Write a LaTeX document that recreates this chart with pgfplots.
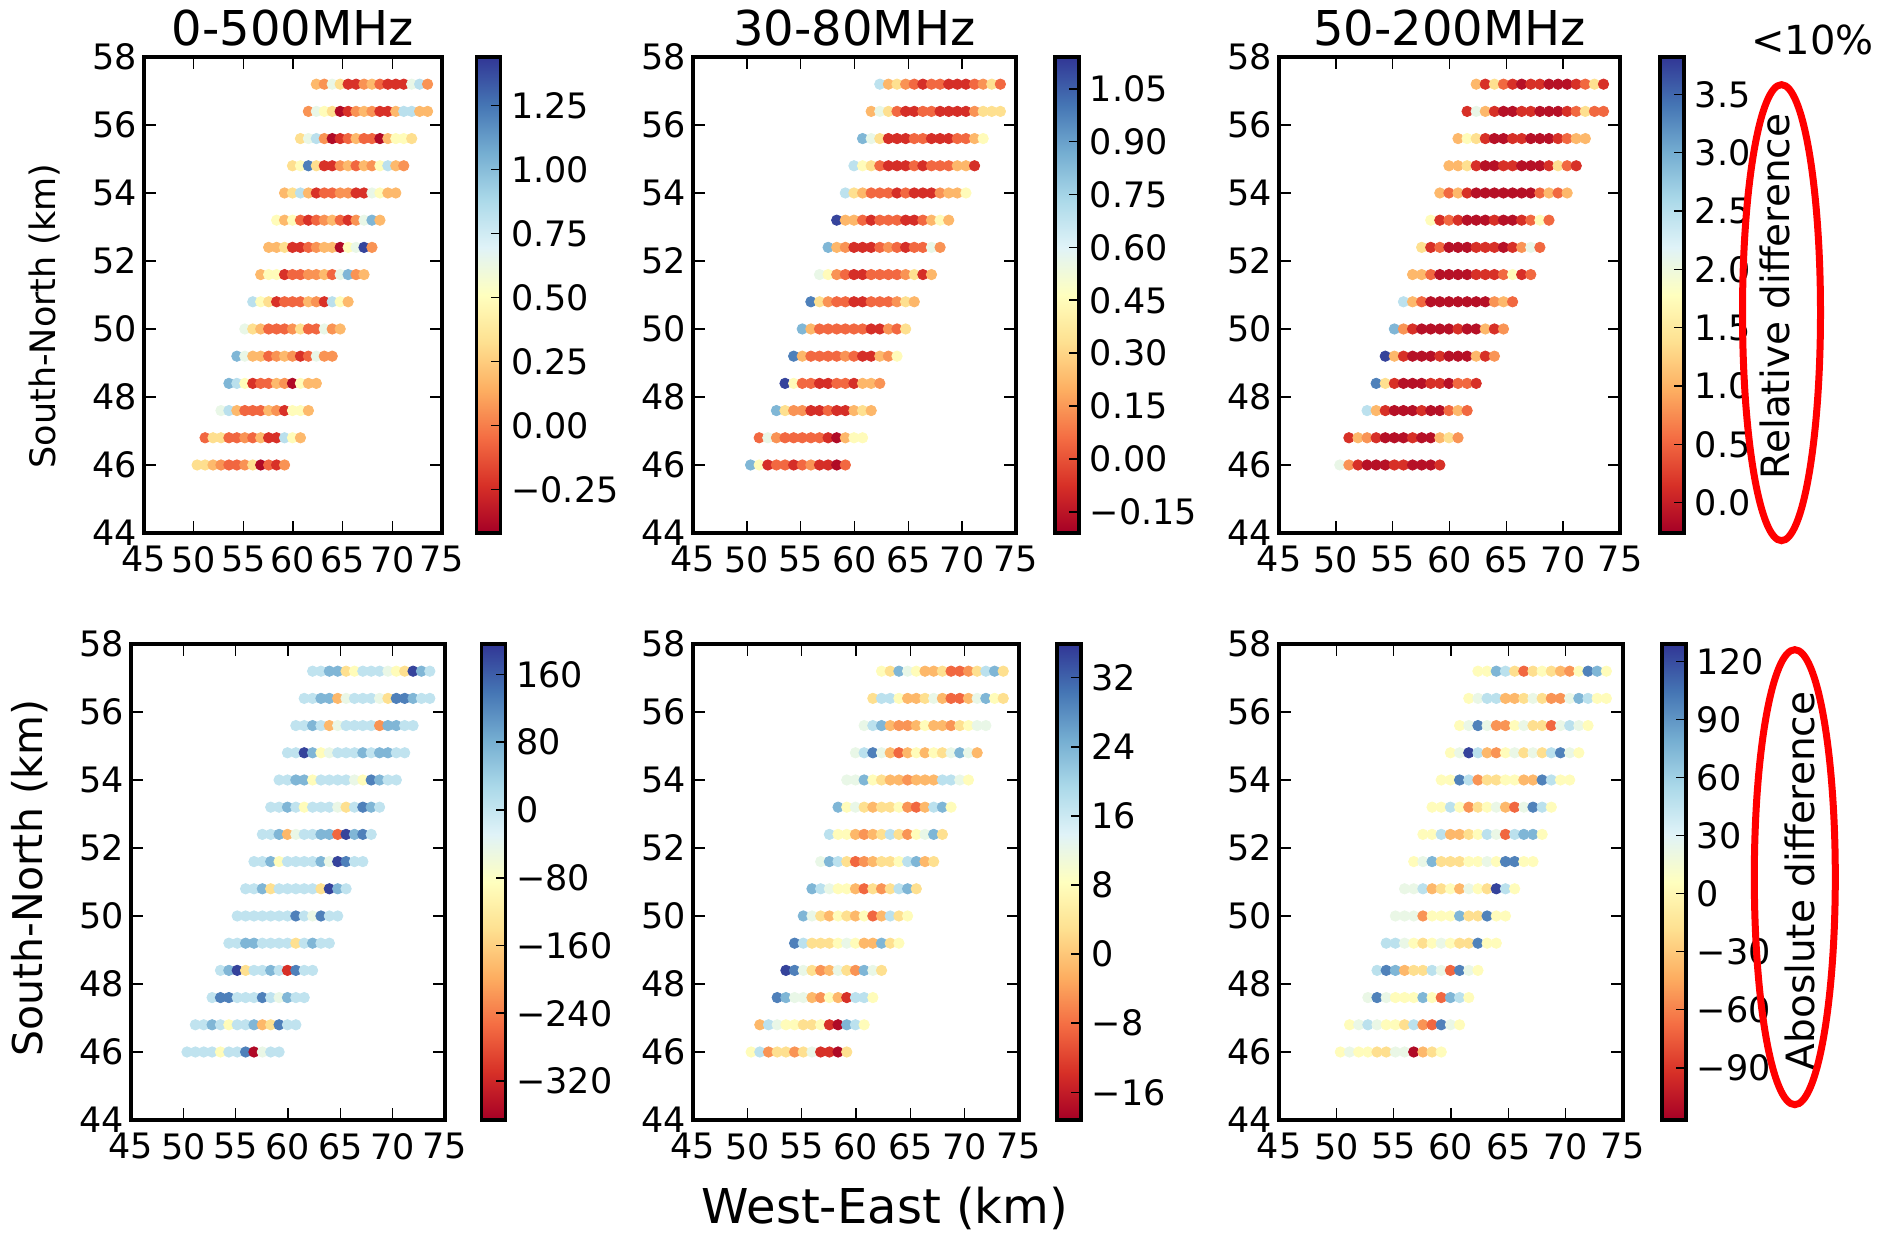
\documentclass[border=0pt]{standalone}
\usepackage{fontspec}
\setmainfont{DejaVu Sans}
\usepackage{pgfplots}
\usepackage{pgfplotstable}
\pgfplotsset{compat=1.18}

\newcommand\tickfont{\fontsize{17.5}{20}\selectfont}
\newcommand\titlefont{\fontsize{24}{28}\selectfont}
\newcommand\sidefont{\fontsize{19.5}{22}\selectfont}

% Station positions (km) and per-station differences:
% a,b,c = relative difference (0-500, 30-80, 50-200 MHz)
% d,e,f = absolute difference (0-500, 30-80, 50-200 MHz)
\pgfplotstableread{
x y a b c d e f
50.35 46.0 0.32 0.84 2.07 5 7.8 4
51.15 46.0 0.32 0.45 0.80 5 17.7 23
51.95 46.0 0.18 -0.08 0.15 5 -4.9 4
52.75 46.0 0.06 0.05 -0.12 5 2.8 4
53.55 46.0 -0.07 0.05 -0.12 -91 2.8 -19
54.35 46.0 -0.07 -0.08 -0.12 5 -4.9 -19
55.15 46.0 0.06 0.05 0.15 5 2.8 23
55.95 46.0 0.32 0.14 0.15 129 12.2 23
56.75 46.0 -0.38 -0.08 -0.12 -355 -13.7 -112
57.55 46.0 -0.07 -0.08 -0.12 -46 -13.7 -38
58.35 46.0 -0.23 -0.18 -0.12 5 -18.1 -19
59.15 46.0 0.06 0.05 0.15 5 2.8 4
51.15 46.8 -0.07 0.05 0.15 5 -1.6 4
51.95 46.8 0.32 0.56 1.05 5 17.7 23
52.75 46.8 0.32 0.14 0.80 72 12.2 48
53.55 46.8 -0.07 0.05 0.15 5 7.8 23
54.35 46.8 -0.07 0.05 -0.12 -91 7.8 4
55.15 46.8 0.06 0.05 -0.12 5 2.8 4
55.95 46.8 -0.07 0.05 -0.12 5 2.8 -19
56.75 46.8 0.18 0.05 0.15 72 7.8 48
57.55 46.8 -0.23 -0.08 -0.12 -186 -13.7 -53
58.35 46.8 -0.23 -0.18 -0.12 -141 -18.1 -70
59.15 46.8 0.83 0.22 1.05 129 23.8 99
59.95 46.8 0.49 0.45 1.37 5 17.7 23
60.75 46.8 0.18 0.45 0.80 5 7.8 4
52.75 47.6 0.64 0.84 2.47 5 29.3 23
53.55 47.6 0.83 0.33 1.05 129 23.8 99
54.35 47.6 0.18 0.14 0.15 129 12.2 23
55.15 47.6 -0.07 0.14 -0.12 5 12.2 4
55.95 47.6 -0.07 -0.08 -0.12 5 -1.6 4
56.75 47.6 -0.07 -0.08 -0.12 5 -4.9 4
57.55 47.6 0.18 0.05 0.15 129 7.8 75
58.35 47.6 0.06 -0.08 -0.12 5 -1.6 4
59.15 47.6 -0.23 -0.08 -0.12 -46 -13.7 -70
59.95 47.6 0.49 0.22 0.52 72 17.7 75
60.75 47.6 0.49 0.33 1.05 5 17.7 48
61.55 47.6 0.18 0.22 0.52 5 7.8 4
53.55 48.4 1.03 1.11 3.33 5 34.8 48
54.35 48.4 0.83 0.45 1.37 72 29.3 99
55.15 48.4 0.49 0.05 0.15 185 12.2 75
55.95 48.4 -0.23 0.05 -0.12 -141 2.8 -38
56.75 48.4 -0.07 -0.08 -0.12 5 -4.9 -19
57.55 48.4 -0.07 -0.08 -0.12 5 -1.6 -19
58.35 48.4 0.18 0.05 0.15 72 12.2 48
59.15 48.4 0.06 0.05 0.15 5 2.8 23
59.95 48.4 -0.38 -0.08 -0.12 -310 -4.9 -70
60.75 48.4 0.49 0.22 0.52 129 23.8 99
61.55 48.4 0.18 0.22 0.52 5 12.2 23
62.35 48.4 0.18 0.14 0.15 5 2.8 4
54.35 49.2 1.03 0.98 3.74 5 29.3 48
55.15 49.2 0.64 0.22 1.05 5 17.7 48
55.95 49.2 0.18 0.05 0.15 72 2.8 23
56.75 49.2 0.18 0.05 -0.12 72 2.8 4
57.55 49.2 -0.07 0.05 -0.12 5 2.8 -19
58.35 49.2 0.06 0.05 -0.12 5 7.8 4
59.15 49.2 0.18 0.14 0.15 5 12.2 23
59.95 49.2 0.06 0.05 -0.12 5 7.8 4
60.75 49.2 -0.23 -0.08 -0.12 -141 -1.6 -19
61.55 49.2 -0.07 -0.08 -0.12 5 -1.6 -19
62.35 49.2 0.64 0.22 1.05 72 23.8 99
63.15 49.2 0.06 0.14 0.15 5 2.8 4
63.95 49.2 0.06 0.45 0.80 5 7.8 4
55.15 50.0 0.64 0.84 2.92 5 23.8 23
55.95 50.0 0.32 0.22 0.80 5 12.2 23
56.75 50.0 0.18 0.05 0.15 5 2.8 23
57.55 50.0 -0.07 0.05 -0.12 5 -1.6 -53
58.35 50.0 -0.07 0.05 -0.12 5 7.8 4
59.15 50.0 -0.07 0.05 -0.12 5 2.8 4
59.95 50.0 0.06 0.05 -0.12 5 -1.6 4
60.75 50.0 0.32 0.05 0.15 129 7.8 75
61.55 50.0 -0.07 -0.08 -0.12 5 -8.7 -19
62.35 50.0 -0.07 -0.08 -0.12 -46 -1.6 -19
63.15 50.0 0.64 0.14 1.05 129 17.7 99
63.95 50.0 0.06 0.05 0.15 5 2.8 4
64.75 50.0 0.18 0.33 0.80 5 7.8 4
55.95 50.8 0.83 0.98 2.47 5 23.8 23
56.75 50.8 0.49 0.33 1.05 5 17.7 23
57.55 50.8 0.32 0.14 0.52 72 12.2 48
58.35 50.8 -0.23 0.05 -0.12 -141 7.8 -38
59.15 50.8 -0.07 0.05 -0.12 5 7.8 -19
59.95 50.8 -0.07 -0.08 -0.12 5 -1.6 4
60.75 50.8 -0.07 -0.08 -0.12 5 -8.7 -38
61.55 50.8 0.18 0.05 -0.12 5 2.8 23
62.35 50.8 0.06 0.05 -0.12 5 -4.9 4
63.15 50.8 -0.23 0.05 -0.12 -141 2.8 -19
63.95 50.8 0.83 0.14 0.80 185 17.7 124
64.75 50.8 0.49 0.33 1.05 72 23.8 48
65.55 50.8 0.18 0.22 0.52 5 2.8 4
56.75 51.6 0.18 0.56 1.05 5 12.2 4
57.55 51.6 0.49 0.45 1.05 5 23.8 23
58.35 51.6 0.49 0.14 0.52 72 17.7 75
59.15 51.6 -0.23 0.05 -0.12 -91 2.8 -19
59.95 51.6 -0.07 -0.08 -0.12 5 -8.7 -19
60.75 51.6 -0.07 -0.08 -0.12 5 -4.9 -19
61.55 51.6 0.06 0.05 -0.12 5 -1.6 4
62.35 51.6 0.06 0.05 0.15 5 2.8 4
63.15 51.6 0.18 0.05 0.15 72 2.8 23
63.95 51.6 -0.07 0.05 0.15 -46 7.8 4
64.75 51.6 0.64 0.14 0.52 185 17.7 99
65.55 51.6 1.03 0.33 1.74 129 23.8 99
66.35 51.6 0.06 -0.08 0.15 5 -1.6 4
67.15 51.6 0.18 0.22 0.52 5 2.8 4
57.55 52.4 0.18 0.84 1.37 5 17.7 4
58.35 52.4 0.18 0.22 0.15 5 7.8 4
59.15 52.4 0.32 0.14 0.52 72 7.8 48
59.95 52.4 -0.23 -0.08 -0.12 -186 -1.6 -38
60.75 52.4 -0.23 -0.08 -0.12 -46 -4.9 -38
61.55 52.4 -0.07 -0.08 -0.12 5 -1.6 -19
62.35 52.4 0.06 0.05 0.15 5 2.8 4
63.15 52.4 0.18 0.14 0.15 72 17.7 48
63.95 52.4 0.18 0.05 0.15 72 2.8 23
64.75 52.4 -0.38 -0.08 -0.12 -259 -4.9 -70
65.55 52.4 0.49 0.05 0.15 185 7.8 48
66.35 52.4 0.64 0.05 0.80 72 12.2 75
67.15 52.4 1.40 0.56 2.07 129 23.8 75
67.95 52.4 0.06 0.14 0.52 5 2.8 4
58.35 53.2 0.49 1.11 1.74 5 23.8 4
59.15 53.2 0.18 0.22 0.15 5 7.8 4
59.95 53.2 0.49 0.22 0.52 72 12.2 48
60.75 53.2 -0.07 0.05 0.15 5 2.8 4
61.55 53.2 -0.23 -0.08 -0.12 -91 -1.6 -53
62.35 53.2 -0.07 0.05 -0.12 5 2.8 -19
63.15 53.2 0.06 0.05 -0.12 5 2.8 4
63.95 53.2 0.18 0.05 0.15 5 7.8 23
64.75 53.2 -0.07 -0.08 -0.12 -46 -4.9 -38
65.55 53.2 -0.23 -0.08 -0.12 -141 -8.7 -70
66.35 53.2 0.06 0.05 0.15 5 -1.6 23
67.15 53.2 0.64 0.22 0.52 129 17.7 99
67.95 53.2 1.03 0.45 1.74 72 23.8 48
68.75 53.2 0.18 0.22 0.52 5 7.8 4
59.15 54.0 0.18 0.69 1.05 5 12.2 4
59.95 54.0 0.32 0.33 0.52 5 12.2 4
60.75 54.0 0.83 0.22 1.05 72 23.8 99
61.55 54.0 0.18 0.05 0.15 72 7.8 48
62.35 54.0 -0.23 0.05 -0.12 -91 2.8 -53
63.15 54.0 -0.07 0.05 -0.12 5 -1.6 -19
63.95 54.0 -0.07 -0.08 -0.12 5 -1.6 -19
64.75 54.0 0.06 0.05 -0.12 5 -4.9 4
65.55 54.0 0.06 -0.08 -0.12 5 -1.6 4
66.35 54.0 -0.23 -0.08 -0.12 -46 -1.6 -38
67.15 54.0 -0.23 -0.08 -0.12 -91 -1.6 -38
67.95 54.0 0.64 0.14 0.52 129 17.7 99
68.75 54.0 0.49 0.22 1.05 72 17.7 48
69.55 54.0 0.18 0.22 0.52 5 12.2 4
70.35 54.0 0.18 0.45 1.05 5 7.8 4
59.95 54.8 0.32 0.69 1.05 5 12.2 4
60.75 54.8 0.49 0.45 1.05 5 17.7 23
61.55 54.8 1.22 0.33 1.37 185 29.3 124
62.35 54.8 0.32 0.05 0.15 72 12.2 48
63.15 54.8 -0.23 -0.08 -0.12 -91 -1.6 -38
63.95 54.8 -0.23 -0.08 -0.12 -46 -8.7 -53
64.75 54.8 0.06 -0.08 0.15 5 -1.6 4
65.55 54.8 0.18 0.05 0.15 5 7.8 23
66.35 54.8 -0.07 -0.08 -0.12 5 -1.6 -19
67.15 54.8 0.18 0.05 -0.12 72 7.8 23
67.95 54.8 0.06 0.05 -0.12 5 2.8 -19
68.75 54.8 0.49 0.05 0.15 72 12.2 48
69.55 54.8 0.83 0.22 1.37 72 23.8 99
70.35 54.8 0.18 0.22 0.52 5 12.2 23
71.15 54.8 0.06 -0.08 0.15 5 -1.6 4
60.75 55.6 0.32 0.84 1.05 5 12.2 4
61.55 55.6 0.64 0.56 1.74 5 17.7 23
62.35 55.6 0.83 0.33 1.37 72 23.8 99
63.15 55.6 0.06 -0.08 0.15 5 -1.6 23
63.95 55.6 -0.38 -0.08 -0.12 -186 -4.9 -53
64.75 55.6 -0.23 -0.08 -0.12 -46 -4.9 -53
65.55 55.6 -0.07 0.05 0.15 5 -1.6 4
66.35 55.6 0.18 0.05 0.15 5 7.8 23
67.15 55.6 -0.07 -0.08 -0.12 5 -1.6 -19
67.95 55.6 -0.07 -0.08 -0.12 5 -1.6 -19
68.75 55.6 -0.38 -0.08 -0.12 -220 -4.9 -70
69.55 55.6 0.18 0.05 0.15 72 2.8 23
70.35 55.6 0.49 0.05 0.52 72 7.8 48
71.15 55.6 0.49 0.22 1.05 5 12.2 23
71.95 55.6 0.32 0.45 1.05 5 12.2 4
61.55 56.4 0.06 0.22 0.15 5 2.8 4
62.35 56.4 0.64 0.56 2.07 5 17.7 23
63.15 56.4 0.49 0.33 1.05 72 17.7 48
63.95 56.4 0.32 0.05 0.15 72 7.8 48
64.75 56.4 -0.38 -0.08 -0.12 -186 -1.6 -38
65.55 56.4 -0.23 -0.08 -0.12 -46 -1.6 -38
66.35 56.4 0.06 0.05 0.15 5 2.8 -19
67.15 56.4 0.18 0.05 0.15 5 12.2 23
67.95 56.4 0.06 -0.08 -0.12 5 -1.6 -19
68.75 56.4 -0.23 -0.08 -0.12 -46 -8.7 -53
69.55 56.4 -0.23 -0.08 -0.12 -141 -8.7 -53
70.35 56.4 0.18 -0.08 0.15 129 -1.6 23
71.15 56.4 0.83 0.14 0.52 129 12.2 75
71.95 56.4 0.83 0.33 1.37 72 23.8 48
72.75 56.4 0.18 0.33 0.52 5 7.8 4
73.55 56.4 0.18 0.33 0.52 5 2.8 4
62.35 57.2 0.18 0.69 1.05 5 7.8 4
63.15 57.2 0.06 0.22 0.15 5 2.8 4
63.95 57.2 0.64 0.33 1.37 72 23.8 75
64.75 57.2 0.32 0.14 0.52 72 12.2 48
65.55 57.2 -0.23 0.05 0.15 -141 7.8 -19
66.35 57.2 -0.23 -0.08 -0.12 -91 -1.6 -70
67.15 57.2 0.06 0.05 0.15 5 -1.6 -19
67.95 57.2 0.18 0.05 0.15 5 2.8 4
68.75 57.2 -0.07 -0.08 -0.12 5 -8.7 -19
69.55 57.2 -0.23 -0.08 -0.12 -46 -8.7 -38
70.35 57.2 -0.23 -0.08 -0.12 -91 -4.9 -53
71.15 57.2 -0.23 0.05 0.15 -141 2.8 4
71.95 57.2 0.64 0.14 0.52 185 17.7 99
72.75 57.2 0.83 0.33 1.37 72 23.8 75
73.55 57.2 0.06 0.05 0.15 5 2.8 4
}\stations

\pgfplotsset{
  colormap={rdylbu}{rgb255=(165,0,38) rgb255=(215,48,39) rgb255=(244,109,67)
    rgb255=(253,174,97) rgb255=(254,224,144) rgb255=(255,255,191)
    rgb255=(224,243,248) rgb255=(171,217,233) rgb255=(116,173,209)
    rgb255=(69,117,180) rgb255=(49,54,149)},
  station panel/.style={
    anchor=south west,
    scale only axis, height=238pt,
    xmin=45, xmax=75, ymin=44, ymax=58,
    xtick={45,50,55,60,65,70,75}, xticklabels={45,50,55,60,65,70,75},
    ytick={44,46,48,50,52,54,56,58}, yticklabels={44,46,48,50,52,54,56,58},
    tick align=inside, major tick length=6pt,
    tick style={line width=0.8pt, black},
    axis line style={line width=1.6pt},
    ticklabel style={font=\tickfont},
    xticklabel style={yshift=-3pt},
    every axis title/.style={at={(0.5,1)}, anchor=base, yshift=5.5pt, font=\titlefont},
    colormap name=rdylbu,
    scatter/use mapped color={draw=mapped color, fill=mapped color},
    colorbar,
  },
  stations/.style={scatter, only marks, mark=*, mark size=2.6pt, scatter src=explicit},
  % #1 gap to the panel, #2 tick positions, #3 tick texts
  cbar/.style n args={3}{
    colorbar style={
      at={(parent axis.north east)}, anchor=north west, xshift=#1,
      scale only axis, width=12pt, height=238pt,
      ytick={#2}, yticklabels={#3},
      ytick pos=right, yticklabel pos=right,
      tick align=inside, major tick length=5pt,
      tick style={line width=0.8pt, black},
      axis line style={line width=1.6pt},
      yticklabel style={font=\tickfont, xshift=1.8pt},
    },
  },
}

\begin{document}
\begin{tikzpicture}[x=1pt, y=1pt]
\useasboundingbox (0,0) rectangle (948.5,617.5);

% ---- relative difference ----
\begin{axis}[station panel, at={(72pt,351pt)}, width=149pt,
  title={0-500MHz},
  point meta min=-0.42, point meta max=1.44,
  cbar={8.8pt}{-0.25,0,0.25,0.5,0.75,1,1.25}{−0.25,0.00,0.25,0.50,0.75,1.00,1.25}]
\addplot[stations] table[x=x, y=y, meta=a] {\stations};
\end{axis}

\begin{axis}[station panel, at={(346.5pt,351pt)}, width=161.5pt,
  title={30-80MHz},
  point meta min=-0.21, point meta max=1.14,
  cbar={11pt}{-0.15,0,0.15,0.3,0.45,0.6,0.75,0.9,1.05}{−0.15,0.00,0.15,0.30,0.45,0.60,0.75,0.90,1.05}]
\addplot[stations] table[x=x, y=y, meta=b] {\stations};
\end{axis}

\begin{axis}[station panel, at={(639.5pt,351pt)}, width=170.5pt,
  title={50-200MHz},
  point meta min=-0.26, point meta max=3.82,
  cbar={11.5pt}{0,0.5,1,1.5,2,2.5,3,3.5}{0.0,0.5,1.0,1.5,2.0,2.5,3.0,3.5}]
\addplot[stations] table[x=x, y=y, meta=c] {\stations};
\end{axis}

% ---- absolute difference ----
\begin{axis}[station panel, at={(65.5pt,57.5pt)}, width=157pt,
  point meta min=-366, point meta max=196,
  cbar={9.8pt}{-320,-240,-160,-80,0,80,160}{−320,−240,−160,−80,0,80,160}]
\addplot[stations] table[x=x, y=y, meta=d] {\stations};
\end{axis}

\begin{axis}[station panel, at={(346.5pt,57.5pt)}, width=163pt,
  point meta min=-19.2, point meta max=35.9,
  cbar={10.5pt}{-16,-8,0,8,16,24,32}{−16,−8,0,8,16,24,32}]
\addplot[stations] table[x=x, y=y, meta=e] {\stations};
\end{axis}

\begin{axis}[station panel, at={(639.5pt,57.5pt)}, width=172pt,
  point meta min=-117, point meta max=129,
  cbar={11pt}{-90,-60,-30,0,30,60,90,120}{−90,−60,−30,0,30,60,90,120}]
\addplot[stations] table[x=x, y=y, meta=f] {\stations};
\end{axis}

% axis titles
\node[rotate=90, font=\fontsize{17.5}{20}\selectfont] at (22.4,459.5) {South-North (km)};
\node[rotate=90, font=\fontsize{20.5}{23}\selectfont] at (15,178.5) {South-North (km)};
\node[anchor=base, font=\titlefont] at (442.5,5.5) {West-East (km)};

% side annotations
\node[anchor=base west, inner sep=0pt, font=\fontsize{20}{22}\selectfont] at (875.5,590.25) {<10\%};
\node[rotate=90, font=\sidefont, fill=white, inner sep=1pt] at (887.5,469.25) {Relative difference};
\node[rotate=90, font=\sidefont, fill=white, inner sep=1pt] at (900,177) {Aboslute difference};
\draw[red, line width=3.5pt] (890.75,461.15) ellipse [x radius=19.5, y radius=114];
\draw[red, line width=3.5pt] (897.4,178.9) ellipse [x radius=20.25, y radius=113.75];
\end{tikzpicture}
\end{document}
